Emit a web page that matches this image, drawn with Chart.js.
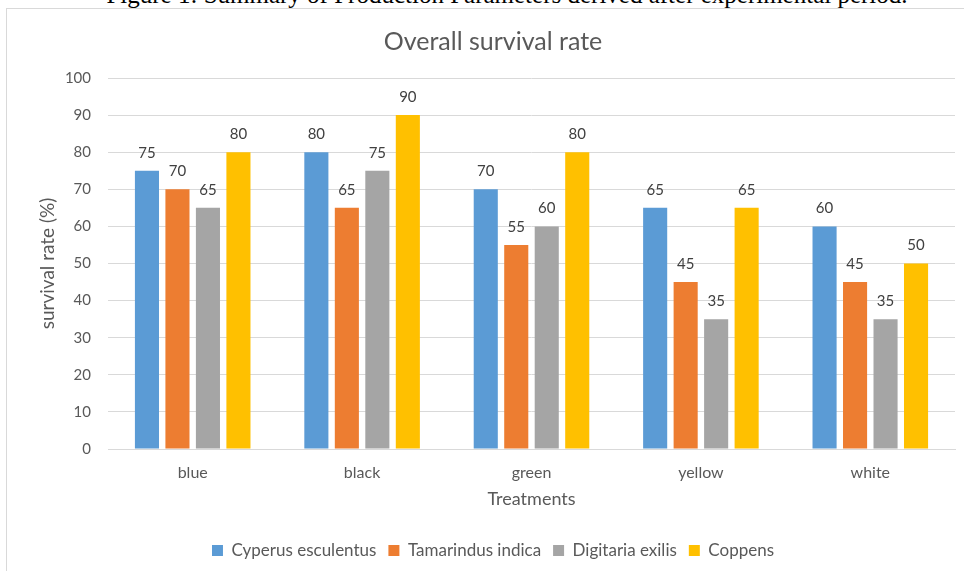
<!DOCTYPE html>
<html>
<head>
<meta charset="utf-8">
<script src="https://cdn.jsdelivr.net/npm/chart.js@4"></script>
<style>
  html, body { margin: 0; padding: 0; background: #fff; overflow: hidden; }
  #wrap { position: relative; width: 964px; height: 571px; overflow: hidden; }
  #caption {
    position: absolute; left: 0; top: -19px; width: 1014px; text-align: center;
    font-family: "Liberation Serif", "DejaVu Serif", serif; font-size: 25px; color: #000;
    white-space: nowrap;
  }
  #frame {
    position: absolute; left: 6px; top: 8px; width: 980px; height: 600px;
    border: 1px solid #d9d9d9; box-sizing: border-box;
  }
  canvas { position: absolute; left: 0; top: 0; }
</style>
</head>
<body>
<div id="wrap">
  <div id="caption">Figure 1: Summary of Production Parameters derived after experimental period.</div>
  <div id="frame"></div>
  <canvas id="c" width="981" height="571"></canvas>
</div>
<script>
// Survival rate (%) per treatment colour for each species
const treatments = ['blue', 'black', 'green', 'yellow', 'white'];
const cyperus    = [75, 80, 70, 65, 60];
const tamarindus = [70, 65, 55, 45, 45];
const digitaria  = [65, 75, 60, 35, 35];
const coppens    = [80, 90, 80, 65, 50];
const yTicks     = [0, 10, 20, 30, 40, 50, 60, 70, 80, 90, 100];

const FONT = 'Lato, "Open Sans", sans-serif';
const TEXT = '#595959';

// Writes each bar's value above it
const valueLabels = {
  id: 'valueLabels',
  afterDatasetsDraw(chart) {
    const ctx = chart.ctx;
    ctx.save();
    ctx.font = '15px ' + FONT;
    ctx.fillStyle = '#404040';
    ctx.textAlign = 'center';
    ctx.textBaseline = 'middle';
    chart.data.datasets.forEach((ds, i) => {
      chart.getDatasetMeta(i).data.forEach((bar, j) => {
        ctx.fillText(String(ds.data[j]), bar.x, bar.y - 18);
      });
    });
    ctx.restore();
  }
};

new Chart(document.getElementById('c'), {
  type: 'bar',
  data: {
    labels: treatments,
    datasets: [
      { label: 'Cyperus esculentus', data: cyperus,    backgroundColor: '#5B9BD5', yAxisID: 'y' },
      { label: 'Tamarindus indica',  data: tamarindus, backgroundColor: '#ED7D31', yAxisID: 'y' },
      { label: 'Digitaria exilis',   data: digitaria,  backgroundColor: '#A5A5A5', yAxisID: 'y' },
      { label: 'Coppens',            data: coppens,    backgroundColor: '#FFC000', yAxisID: 'y' }
    ]
  },
  options: {
    responsive: false,
    animation: false,
    devicePixelRatio: 1,
    layout: { padding: { left: 5, right: 0, top: 0, bottom: 2 } },
    datasets: { bar: { barPercentage: 0.79, categoryPercentage: 0.72 } },
    plugins: {
      title: {
        display: true,
        text: 'Overall survival rate',
        color: TEXT,
        font: { family: FONT, size: 25, weight: 'normal' },
        padding: { top: 27, bottom: 21 }
      },
      legend: {
        position: 'bottom',
        labels: {
          color: TEXT,
          font: { family: FONT, size: 17 },
          boxWidth: 11, boxHeight: 11,
          padding: 12
        }
      },
      tooltip: { enabled: false }
    },
    scales: {
      x: {
        grid: { display: false, drawTicks: false },
        border: { display: true, color: '#d9d9d9', width: 1 },
        ticks: { color: TEXT, font: { family: FONT, size: 16 }, padding: 14 },
        title: {
          display: true, text: 'Treatments', color: TEXT,
          font: { family: FONT, size: 18 },
          padding: { top: 4, bottom: 20 }
        },
        afterFit(scale) { scale.height = 81; }
      },
      y: {
        min: 0, max: 100,
        afterBuildTicks(scale) { scale.ticks = yTicks.map(v => ({ value: v })); },
        grid: { color: '#d9d9d9', drawTicks: false },
        border: { display: false },
        ticks: { color: TEXT, font: { family: FONT, size: 15 }, padding: 17 },
        title: {
          display: true, text: 'survival rate (%)', color: TEXT,
          font: { family: FONT, size: 19 },
          padding: { top: 31, bottom: 4 }
        },
        afterFit(scale) { scale.width = 103; }
      },
      // blank margin on the right of the plot
      yRight: {
        position: 'right',
        grid: { display: false, drawTicks: false },
        border: { display: false },
        ticks: { display: false },
        afterFit(scale) { scale.width = 26; }
      }
    }
  },
  plugins: [valueLabels]
});
</script>
</body>
</html>
